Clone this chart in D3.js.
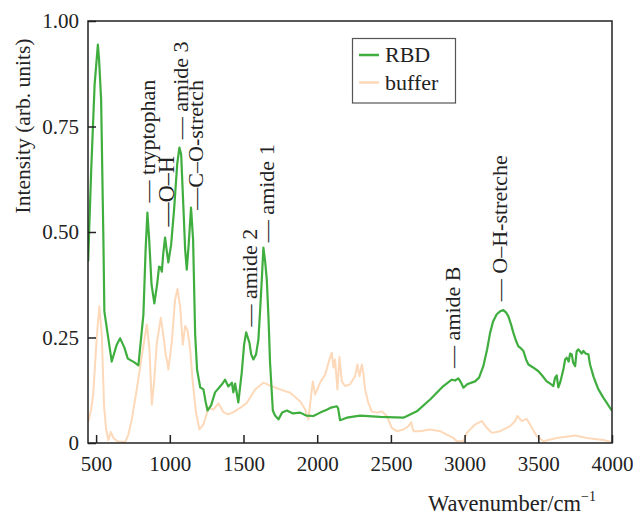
<!DOCTYPE html>
<html>
<head>
<meta charset="utf-8">
<script src="https://cdn.jsdelivr.net/npm/d3@7"></script>
<style>
  html, body { margin: 0; padding: 0; background: #fff; }
  svg { display: block; }
  text { font-family: "Liberation Serif", "Times New Roman", serif; fill: #222; }
</style>
</head>
<body>
<svg id="chart" width="633" height="516"></svg>
<script>
// ---- Data ----
const rbdWavenumber = [446,466,490,512,520,534,550,556,579,606,640,663,692,715,760,787,821,836,848,860,876,895,914,927,938,946,955,968,978,990,1009,1029,1050,1065,1077,1090,1104,1115,1128,1144,1158,1172,1185,1206,1228,1243,1256,1280,1307,1341,1358,1375,1397,1421,1431,1443,1465,1488,1504,1518,1540,1552,1567,1585,1601,1613,1624,1635,1647,1658,1670,1680,1699,1714,1737,1762,1794,1836,1884,1925,1974,2020,2065,2094,2133,2142,2155,2201,2291,2427,2585,2676,2766,2856,2913,2935,2958,2976,2992,3017,3071,3098,3127,3153,3173,3193,3218,3241,3263,3282,3297,3315,3331,3350,3365,3383,3399,3417,3433,3465,3501,3526,3557,3580,3602,3614,3625,3636,3648,3670,3682,3693,3706,3716,3727,3736,3750,3760,3772,3783,3794,3806,3821,3840,3851,3874,3892,3908,3942,3967,3987,4000];
const rbdIntensity = [0.430,0.640,0.850,0.944,0.909,0.814,0.470,0.312,0.257,0.193,0.233,0.248,0.226,0.200,0.191,0.184,0.305,0.459,0.546,0.482,0.376,0.331,0.376,0.418,0.416,0.406,0.447,0.487,0.459,0.428,0.470,0.553,0.660,0.700,0.684,0.577,0.459,0.411,0.470,0.558,0.482,0.257,0.174,0.132,0.127,0.098,0.077,0.089,0.120,0.134,0.141,0.150,0.134,0.143,0.120,0.141,0.096,0.167,0.233,0.262,0.238,0.210,0.198,0.210,0.245,0.316,0.387,0.463,0.430,0.387,0.293,0.191,0.077,0.065,0.056,0.072,0.077,0.070,0.072,0.065,0.064,0.072,0.079,0.084,0.087,0.082,0.054,0.060,0.065,0.062,0.060,0.075,0.103,0.135,0.150,0.148,0.153,0.143,0.131,0.139,0.146,0.155,0.182,0.222,0.261,0.288,0.305,0.312,0.315,0.309,0.300,0.281,0.261,0.241,0.229,0.224,0.218,0.198,0.186,0.179,0.170,0.160,0.146,0.141,0.135,0.155,0.160,0.132,0.143,0.174,0.198,0.202,0.193,0.212,0.210,0.191,0.182,0.217,0.222,0.217,0.212,0.218,0.212,0.210,0.186,0.158,0.141,0.127,0.107,0.094,0.083,0.077];

const bufferWavenumber = [446,466,480,505,522,539,554,568,583,600,617,645,697,719,742,776,810,844,862,878,893,912,939,957,973,980,990,1013,1036,1052,1070,1088,1104,1119,1138,1156,1178,1201,1228,1262,1296,1330,1364,1397,1431,1477,1522,1579,1635,1680,1748,1816,1884,1918,1940,1970,1986,2020,2054,2083,2099,2110,2121,2137,2151,2167,2189,2223,2257,2273,2287,2303,2313,2325,2347,2370,2404,2438,2472,2506,2540,2585,2619,2637,2653,2698,2766,2834,2879,2924,2947,2992,3015,3071,3117,3151,3185,3241,3309,3343,3358,3388,3422,3444,3490,3535,3625,3750,3829,3942,4000];
const bufferIntensity = [0.049,0.079,0.115,0.253,0.324,0.253,0.087,0.032,0.007,0.026,0.012,0.004,0.002,0.020,0.056,0.127,0.206,0.281,0.222,0.091,0.143,0.237,0.297,0.253,0.206,0.198,0.174,0.237,0.340,0.365,0.324,0.233,0.277,0.269,0.222,0.143,0.072,0.032,0.044,0.083,0.079,0.094,0.073,0.068,0.073,0.083,0.095,0.127,0.143,0.136,0.127,0.119,0.099,0.080,0.056,0.146,0.115,0.143,0.162,0.198,0.214,0.179,0.198,0.127,0.204,0.146,0.135,0.139,0.158,0.186,0.158,0.186,0.166,0.127,0.095,0.075,0.072,0.075,0.064,0.036,0.028,0.032,0.040,0.049,0.028,0.028,0.032,0.028,0.020,0.012,0.004,0.004,0.024,0.044,0.052,0.036,0.024,0.028,0.040,0.052,0.064,0.052,0.057,0.044,0.016,0.004,0.012,0.018,0.012,0.007,0.002];

const xTicks = [500,1000,1500,2000,2500,3000,3500,4000];
const yTicks = [0,0.25,0.5,0.75,1.0];
const yTickLabels = ["0","0.25","0.50","0.75","1.00"];

const seriesNames = ["RBD","buffer"];
const seriesColors = ["#3fae3f","#fdd9b9"];

// annotations: label, wavenumber position (center), bottom intensity
const annLabels = ["— tryptophan","—O–H","— amide 3","—C–O-stretch","— amide 2","— amide 1","— amide B","— O–H-stretche"];
const annWavenumber = [849,970,1070,1171,1540,1657,2918,3238];
const annBottom = [0.57,0.513,0.72,0.553,0.276,0.476,0.178,0.336];

// ---- Layout ----
const svg = d3.select("#chart");
const L = 88, R = 612, T = 21, B = 443;
const x = d3.scaleLinear().domain([445, 4000]).range([L, R]);
const y = d3.scaleLinear().domain([0, 1]).range([B, T]);

svg.append("defs").append("clipPath").attr("id","clip")
  .append("rect").attr("x", L).attr("y", T).attr("width", R - L).attr("height", B - T);

const line = d3.line().x(d => x(d[0])).y(d => y(d[1]));

const gLines = svg.append("g").attr("clip-path","url(#clip)");
gLines.append("path")
  .datum(d3.zip(bufferWavenumber, bufferIntensity))
  .attr("d", line).attr("fill","none")
  .attr("stroke", seriesColors[1]).attr("stroke-width", 2).attr("stroke-linejoin","round");
gLines.append("path")
  .datum(d3.zip(rbdWavenumber, rbdIntensity))
  .attr("d", line).attr("fill","none")
  .attr("stroke", seriesColors[0]).attr("stroke-width", 2.2).attr("stroke-linejoin","round");

// axes (inward ticks)
const xAxis = d3.axisBottom(x).tickValues(xTicks).tickSizeInner(-8).tickSizeOuter(0).tickPadding(13).tickFormat(d3.format("d"));
const gx = svg.append("g").attr("transform", `translate(0,${B})`).call(xAxis);
gx.select(".domain").remove();
gx.selectAll(".tick line").attr("stroke","#222").attr("stroke-width",1.5);
gx.selectAll("text").attr("font-size", 21).attr("fill","#222")
  .attr("font-family","'Liberation Serif', serif");

const yAxis = d3.axisLeft(y).tickValues(yTicks).tickSizeInner(-8).tickSizeOuter(0).tickPadding(9)
  .tickFormat((d, i) => yTickLabels[i]);
const gy = svg.append("g").attr("transform", `translate(${L},0)`).call(yAxis);
gy.select(".domain").remove();
gy.selectAll(".tick line").attr("stroke","#222").attr("stroke-width",1.5);
gy.selectAll("text").attr("font-size", 21).attr("fill","#222")
  .attr("font-family","'Liberation Serif', serif");

// frame
svg.append("rect").attr("x", L).attr("y", T).attr("width", R - L).attr("height", B - T)
  .attr("fill","none").attr("stroke","#222").attr("stroke-width",1.5);

// axis titles
svg.append("text").attr("transform","translate(30,126) rotate(-90)")
  .attr("text-anchor","middle").attr("font-size", 21.5).text("Intensity (arb. units)");

const xt = svg.append("text").attr("x", 596).attr("y", 511).attr("text-anchor","end").attr("font-size", 22.5);
xt.append("tspan").text("Wavenumber/cm");
xt.append("tspan").attr("dy", -10).attr("font-size", 14).text("−1");

// annotations
annLabels.forEach((lab, i) => {
  svg.append("text")
    .attr("transform", `translate(${x(annWavenumber[i])},${y(annBottom[i])}) rotate(-90)`)
    .attr("dy","0.35em")
    .attr("text-anchor","start")
    .attr("font-size", lab === "—O–H" ? 24 : 22)
    .text(lab);
});

// legend
const lg = svg.append("g");
lg.append("rect").attr("x", 352.5).attr("y", 38.5).attr("width", 103).attr("height", 64.5)
  .attr("fill","#fff").attr("stroke","#555").attr("stroke-width",1.2);
seriesNames.forEach((name, i) => {
  const cy = 55 + i * 27.5;
  lg.append("line").attr("x1", 359).attr("x2", 379).attr("y1", cy).attr("y2", cy)
    .attr("stroke", seriesColors[i]).attr("stroke-width", 2.5);
  lg.append("text").attr("x", 385).attr("y", cy).attr("dy","0.33em")
    .attr("font-size", 22).text(name);
});
</script>
</body>
</html>
